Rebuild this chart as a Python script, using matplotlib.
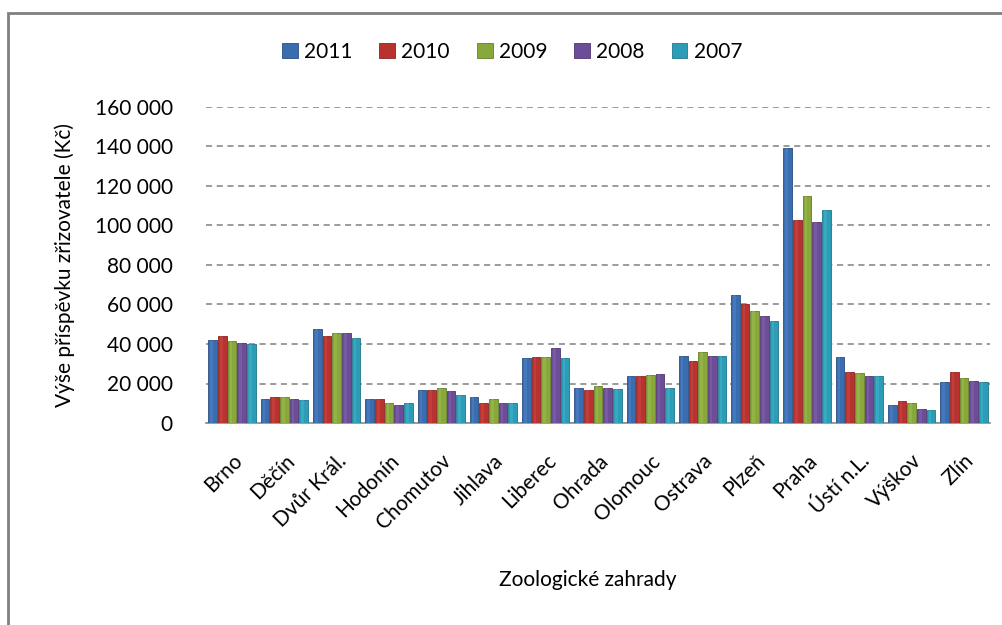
import matplotlib
matplotlib.use("Agg")
import matplotlib.pyplot as plt
import numpy as np
from matplotlib.patches import Rectangle

plt.rcParams['font.family'] = ['Lato', 'DejaVu Sans']

categories = ["Brno", "Děčín", "Dvůr Král.", "Hodonín", "Chomutov", "Jihlava", "Liberec",
              "Ohrada", "Olomouc", "Ostrava", "Plzeň", "Praha", "Ústí n.L.", "Výškov", "Zlín"]
years = ["2011", "2010", "2009", "2008", "2007"]
v2011 = [42000, 12400, 47500, 11900, 16700, 13000, 32800, 17700, 23700, 33800, 64600, 139300, 33600, 9000, 20800]
v2010 = [44000, 13000, 44000, 12400, 16700, 9900, 33300, 16700, 23700, 31300, 60000, 102700, 25800, 11200, 25800]
v2009 = [41700, 13000, 45500, 9900, 17700, 12200, 33300, 18700, 24200, 35800, 56500, 114900, 25300, 10200, 22700]
v2008 = [40600, 12400, 45500, 9300, 16200, 10200, 37800, 17700, 24700, 33800, 54100, 101700, 23900, 7100, 21400]
v2007 = [39900, 11400, 43000, 9900, 14000, 10200, 32800, 17200, 17700, 33800, 51400, 107800, 23900, 6400, 20800]
series = [v2011, v2010, v2009, v2008, v2007]
yticks = [0, 20000, 40000, 60000, 80000, 100000, 120000, 140000, 160000]
ytick_labels = ["0", "20 000", "40 000", "60 000", "80 000", "100 000", "120 000", "140 000", "160 000"]

colors = ["#3a6cb0", "#b8322f", "#89a83c", "#6c4d97", "#2d9cb6"]
light = ["#5b8fd6", "#d9534f", "#a9c95a", "#9070bd", "#4fc3dc"]
dark = ["#2a4f82", "#8c2422", "#657d2a", "#4f386f", "#21778b"]

fig = plt.figure(figsize=(10.02, 6.25), dpi=100)
W, H = 1002, 625
ax = fig.add_axes([206 / W, 1 - 423 / H, (990 - 206) / W, (423 - 107) / H])

x = np.arange(len(categories))
step = 0.185
bw = 0.165
for i, (s, c) in enumerate(zip(series, colors)):
    pos = x + (i - 2) * step
    ax.bar(pos + 0.02, s, bw, color="#d8d8d8", zorder=2, alpha=0.6)
    ax.bar(pos, s, bw, color=c, edgecolor=dark[i], linewidth=0.6, zorder=3, label=years[i])
    ax.bar(pos - bw * 0.12, s, bw * 0.3, color=light[i], alpha=0.35, linewidth=0, zorder=4)

fs = 15
ax.set_xlim(-0.5, len(categories) - 0.5)
ax.set_ylim(0, 160000)
ax.set_yticks(yticks)
ax.set_yticklabels(ytick_labels, fontsize=fs)
ax.set_xticks(x)
ax.set_xticklabels(categories, rotation=45, ha="right", rotation_mode="anchor", fontsize=fs)
ax.tick_params(axis="both", length=0)
ax.tick_params(axis="y", pad=24)
ax.tick_params(axis="x", pad=20)
ax.grid(axis="y", color="#808080", linestyle=(0, (4, 3)), linewidth=1.1, zorder=0)
ax.set_axisbelow(True)
for sp in ["top", "right", "left"]:
    ax.spines[sp].set_visible(False)
ax.spines["bottom"].set_color("#8c8c8c")
ax.spines["bottom"].set_linewidth(1.2)

ax.set_ylabel("Výše příspěvku zřizovatele (Kč)", fontsize=fs, labelpad=14)
fig.text(588 / W, 1 - 580 / H, "Zoologické zahrady", ha="center", va="center", fontsize=fs)

handles, labels = ax.get_legend_handles_labels()
fig.legend(handles, labels, loc="center", bbox_to_anchor=(512 / W, 1 - 52 / H), ncol=5,
           frameon=False, fontsize=fs, handlelength=0.75, handleheight=0.75,
           handletextpad=0.3, columnspacing=1.3)

fig.patches.append(Rectangle((8 / W, -0.2), 1.2, 1.2 - 13 / H, transform=fig.transFigure,
                             fill=False, edgecolor="#808080", linewidth=2))

fig.savefig("out.png", dpi=100)
